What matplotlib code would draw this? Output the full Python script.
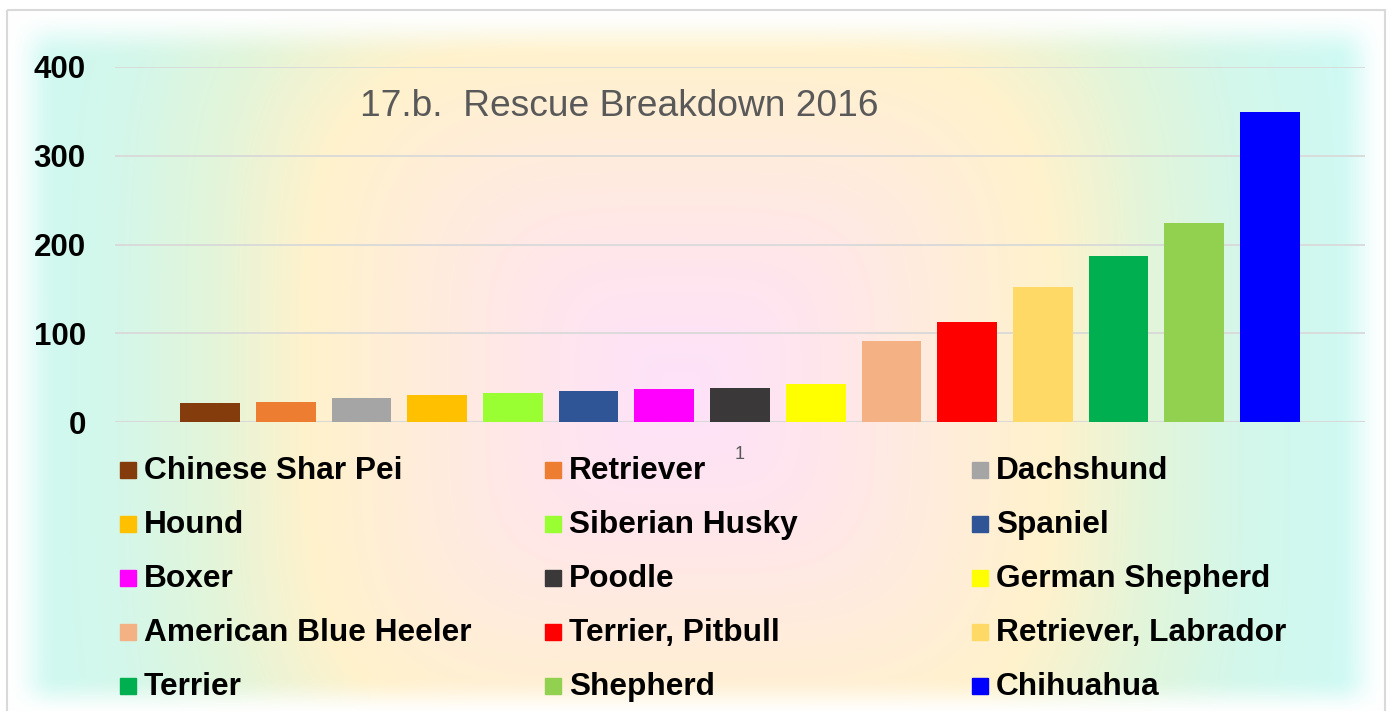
import numpy as np
import matplotlib
matplotlib.use("Agg")
import matplotlib.pyplot as plt
from matplotlib.patches import Rectangle

plt.rcParams['font.family'] = ['Liberation Sans', 'DejaVu Sans']

# =================== DADOS ===================
racas = [
    "Chinese Shar Pei", "Retriever", "Dachshund", "Hound", "Siberian Husky",
    "Spaniel", "Boxer", "Poodle", "German Shepherd", "American Blue Heeler",
    "Terrier, Pitbull", "Retriever, Labrador", "Terrier", "Shepherd", "Chihuahua",
]
resgates = [21, 23, 27, 30, 33, 35, 37, 38, 43, 91, 113, 152, 187, 224, 349]
cores = [
    "#843C0C", "#ED7D31", "#A5A5A5", "#FFC000", "#99FF33",
    "#2F5597", "#FF00FF", "#3A3838", "#FFFF00", "#F4B183",
    "#FF0000", "#FFD966", "#00B050", "#92D050", "#0000FF",
]
yticks = [0, 100, 200, 300, 400]
categoria = "1"
titulo = "17.b.  Rescue Breakdown 2016"

W, H = 1390, 711
fig = plt.figure(figsize=(W / 100, H / 100), dpi=100)

# =================== FUNDO (gradiente) ===================
def gradiente_fundo():
    yy, xx = np.mgrid[0:H, 0:W].astype(float)
    cx, cy = 680.0, 390.0
    p = 4.0
    d = ((np.abs(xx - cx) / 640.0) ** p + (np.abs(yy - cy) / 600.0) ** p) ** (1 / p)
    stops = [0.0, 0.22, 0.42, 0.58, 0.74, 0.88, 1.1]
    cols = np.array([
        (253, 226, 250), (255, 230, 236), (255, 237, 218), (255, 242, 204),
        (226, 245, 218), (212, 247, 234), (205, 250, 246),
    ]) / 255.0
    img = np.stack([np.interp(d, stops, cols[:, k]) for k in range(3)], axis=-1)

    # bordas suaves (soft edges)
    def smooth(t):
        t = np.clip(t, 0, 1)
        return t * t * (3 - 2 * t)
    x0, x1, y0, y1 = 7, 1385, 10, 716
    w = (smooth((xx - x0) / 50.0) * smooth((x1 - xx) / 50.0)
         * smooth((yy - y0) / 50.0) * smooth((y1 - yy) / 40.0))
    img = img * w[..., None] + (1 - w[..., None])
    return img

bg = fig.add_axes([0, 0, 1, 1], zorder=0)
bg.imshow(gradiente_fundo(), extent=(0, W, H, 0), aspect='auto', interpolation='bilinear')
bg.set_xlim(0, W)
bg.set_ylim(H, 0)
bg.axis('off')
bg.add_patch(Rectangle((7, 10), 1378, 720, fill=False, edgecolor="#D9D9D9", lw=1.5))

# =================== GRAFICO ===================
ax = fig.add_axes([115 / W, 1 - 422 / H, 1250 / W, 355 / H], zorder=1)
ax.patch.set_alpha(0)
x = np.arange(len(resgates))
ax.bar(x, resgates, width=0.79, color=cores, zorder=3)
ax.set_xlim(-1.255, len(resgates) - 1 + 1.255)
ax.set_ylim(0, 400)
ax.set_yticks(yticks)
ax.set_yticklabels([str(v) for v in yticks], fontsize=22.5, fontweight='bold', color='black')
ax.tick_params(axis='y', length=0, pad=21)
ax.set_xticks([(len(resgates) - 1) / 2])
ax.set_xticklabels([categoria], fontsize=13, color="#595959")
ax.tick_params(axis='x', length=0, pad=17)
ax.yaxis.grid(True, color="#D9D9D9", lw=1.3, zorder=0)
for s in ax.spines.values():
    s.set_visible(False)
ax.axhline(0, color="#D9D9D9", lw=1.5, zorder=2)

fig.text(360 / W, 1 - 106 / H, titulo, fontsize=26.7, color="#595959", ha='left', va='center')

# =================== LEGENDA ===================
col_x = [120, 545, 972]
lin_y = [470, 524, 578, 632, 686]
for i, (nome, cor) in enumerate(zip(racas, cores)):
    r, c = divmod(i, 3)
    bg.add_patch(Rectangle((col_x[c], lin_y[r] - 8), 16, 16, color=cor, zorder=3))
    bg.text(col_x[c] + 24, lin_y[r] + 1, nome, fontsize=22.8, fontweight='bold',
            color='black', ha='left', va='center', zorder=3)

fig.savefig("out.png", dpi=100)
